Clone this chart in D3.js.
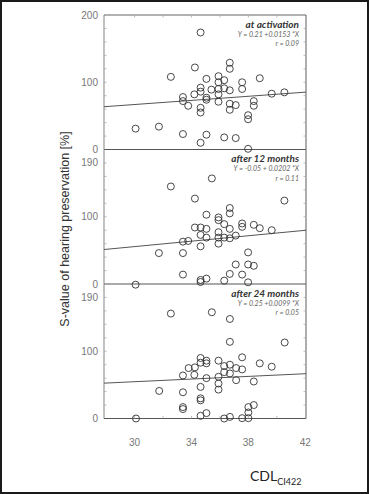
<!DOCTYPE html>
<html>
<head>
<meta charset="utf-8">
<script src="https://cdn.jsdelivr.net/npm/d3@7"></script>
<style>
  body { margin: 0; background: #fff; }
  svg { display: block; }
</style>
</head>
<body>
<div id="chart"></div>
<script>
// panels
const panelTitles = ["at activation", "after 12 months", "after 24 months"];
const panelFormulas = ["Y = 0.21 +0.0153 *X", "Y = -0.05 + 0.0202 *X", "Y = 0.25 +0.0099 *X"];
const panelR = ["r =  0.09", "r = 0.11", "r = 0.05"];
const intercepts = [0.21, -0.05, 0.25];
const slopes = [0.0153, 0.0202, 0.0099];

// y ticks per panel (value, label)
const yTickValues = [[0, 100, 200], [0, 100, 180], [0, 100, 180]];
const yTickLabels = [["0", "100", "200"], ["0", "100", "190"], ["0", "100", "190"]];
const xTickValues = [30, 34, 38, 42];

// activation: [CDL, S-value]
const activation = [
  [34.64,174],[34.24,122],[32.55,108],[36.69,129],[36.69,120],[35.05,105],[35.9,109],[35.9,100],
  [36.3,103],[37.56,100],[37.56,90],[38.8,106],[34.64,92],[34.64,86],[34.2,82],[35.4,89],
  [35.9,90],[36.3,91],[36.69,88],[35.9,82],[35.05,77],[35.05,74],[33.4,78],[33.4,72],
  [33.77,65],[34.64,62],[34.64,55],[35.9,71],[36.69,68],[36.69,59],[37.11,66],[38.38,72],
  [38.38,65],[37.98,51],[37.98,45],[39.64,83],[40.53,85],[30.07,31],[31.71,34],[33.4,23],
  [35.05,22],[34.64,10],[36.3,18],[37.11,17],[37.98,1]
];
const month12 = [
  [35.43,157],[32.55,145],[34.24,127],[36.69,113],[36.69,105],[40.53,124],[35.05,103],[35.9,99],
  [35.9,95],[36.3,89],[37.56,90],[37.56,85],[38.38,88],[38.8,83],[39.64,80],[34.24,84],
  [34.64,84],[35.05,82],[36.69,82],[35.9,77],[34.64,73],[35.05,69],[36.3,69],[35.9,69],
  [35.9,60],[36.69,68],[37.11,72],[33.4,63],[33.77,64],[34.64,56],[31.71,46],[33.4,46],
  [37.98,47],[37.11,29],[37.98,29],[38.38,27],[33.4,14],[36.69,15],[37.56,14],[35.05,8],
  [34.64,6],[34.64,3],[36.3,5],[37.98,2.5],[30.07,-1]
];
const month24 = [
  [32.55,156],[35.43,158],[36.7,148],[36.7,114],[40.55,113],[34.64,90],[34.64,83],[35.05,86],
  [35.05,82],[35.9,86],[37.56,91],[38.8,82],[39.64,77],[33.8,75],[34.24,76],[36.3,78],
  [36.7,80],[37.14,75],[37.56,73],[36.3,69],[36.7,67],[34.2,65],[33.4,64],[35.05,60],
  [35.9,62],[35.9,52],[35.9,43],[37.14,57],[38.38,55],[34.64,47],[31.73,41],[33.4,39],
  [34.64,30],[34.64,27],[33.4,17],[33.4,14],[38.0,17],[38.38,20],[38.0,9],[34.64,4],
  [35.05,8],[36.7,2.4],[36.3,0],[37.56,0.5],[38.0,0.5],[30.1,0]
];
const panelData = [activation, month12, month24];

const W = 369, H = 494;
const plotLeft = 104, plotRight = 306, plotTop = 15, panelH = 134.5;

const svg = d3.select("#chart").append("svg")
  .attr("width", W)
  .attr("height", H);

svg.append("rect")
  .attr("x", 1).attr("y", 1)
  .attr("width", W - 2).attr("height", H - 2)
  .attr("fill", "#fff")
  .attr("stroke", "#1a1a1a")
  .attr("stroke-width", 2);

const x = d3.scaleLinear().domain([27.85, 42.05]).range([plotLeft, plotRight]);

panelData.forEach((pts, i) => {
  const top = plotTop + i * panelH;
  const y = d3.scaleLinear().domain([0, 200]).range([top + panelH, top]);
  const g = svg.append("g");

  // frame
  g.append("line")
    .attr("x1", plotLeft).attr("x2", plotLeft)
    .attr("y1", top).attr("y2", top + panelH)
    .attr("stroke", "#999").attr("stroke-width", 1.2);
  g.append("line")
    .attr("x1", plotRight).attr("x2", plotRight)
    .attr("y1", top).attr("y2", top + panelH)
    .attr("stroke", "#777").attr("stroke-width", 1.2);
  if (i == 0) {
    g.append("line")
      .attr("x1", plotLeft).attr("x2", plotRight)
      .attr("y1", top).attr("y2", top)
      .attr("stroke", "#666").attr("stroke-width", 1.2);
  }
  g.append("line")
    .attr("x1", plotLeft).attr("x2", plotRight)
    .attr("y1", y(0)).attr("y2", y(0))
    .attr("stroke", "#555").attr("stroke-width", 1.2);

  // minor ticks inside, left and right
  const minor = d3.range(20, 200, 20);
  g.selectAll(".mtl").data(minor).enter().append("line")
    .attr("x1", plotLeft).attr("x2", plotLeft + 2.5)
    .attr("y1", d => y(d)).attr("y2", d => y(d))
    .attr("stroke", "#aaa").attr("stroke-width", 0.8);
  g.selectAll(".mtr").data(minor).enter().append("line")
    .attr("x1", plotRight).attr("x2", plotRight - 2.5)
    .attr("y1", d => y(d)).attr("y2", d => y(d))
    .attr("stroke", "#aaa").attr("stroke-width", 0.8);

  // y tick labels
  g.selectAll(".yt").data(yTickValues[i]).enter().append("text")
    .attr("x", 98)
    .attr("y", d => y(d))
    .attr("dy", "0.35em")
    .attr("text-anchor", "end")
    .attr("font-family", "Liberation Sans, Arial, sans-serif")
    .attr("font-size", 10)
    .attr("fill", "#777")
    .text((d, k) => yTickLabels[i][k]);

  // regression line
  const xd = x.domain();
  g.append("line")
    .attr("x1", x(xd[0])).attr("x2", x(xd[1]))
    .attr("y1", y(100 * (intercepts[i] + slopes[i] * xd[0])))
    .attr("y2", y(100 * (intercepts[i] + slopes[i] * xd[1])))
    .attr("stroke", "#555").attr("stroke-width", 1);

  // points
  g.selectAll("circle").data(pts).enter().append("circle")
    .attr("cx", d => x(d[0]))
    .attr("cy", d => y(d[1]))
    .attr("r", 3.5)
    .attr("fill", "none")
    .attr("stroke", "#333")
    .attr("stroke-width", 0.9);

  // annotations
  const ann = g.append("g").attr("font-family", "Lato, Open Sans, sans-serif")
    .attr("text-anchor", "end").attr("fill", "#444");
  ann.append("text")
    .attr("x", 299).attr("y", top + 12.5)
    .attr("font-size", 10).attr("font-weight", "bold").attr("font-style", "italic")
    .attr("fill", "#333")
    .text(panelTitles[i]);
  ann.append("text")
    .attr("x", 299).attr("y", top + 21.5)
    .attr("font-size", 7).attr("font-style", "italic")
    .attr("fill", "#666")
    .text(panelFormulas[i]);
  ann.append("text")
    .attr("x", 299).attr("y", top + 31)
    .attr("font-size", 7).attr("font-style", "italic")
    .attr("fill", "#666")
    .text(panelR[i]);
});

// x axis ticks
const bottom = plotTop + 3 * panelH;
const xMinor = d3.range(30, 42, 2);
svg.selectAll(".xmb").data(xMinor).enter().append("line")
  .attr("x1", d => x(d)).attr("x2", d => x(d))
  .attr("y1", bottom).attr("y2", bottom - 2.5)
  .attr("stroke", "#aaa").attr("stroke-width", 0.8);
svg.selectAll(".xmt").data(xMinor).enter().append("line")
  .attr("x1", d => x(d)).attr("x2", d => x(d))
  .attr("y1", plotTop).attr("y2", plotTop + 2.5)
  .attr("stroke", "#aaa").attr("stroke-width", 0.8);
svg.selectAll(".xt").data(xTickValues).enter().append("text")
  .attr("x", d => x(d))
  .attr("y", bottom + 27)
  .attr("text-anchor", "middle")
  .attr("font-family", "Liberation Sans, Arial, sans-serif")
  .attr("font-size", 10)
  .attr("fill", "#777")
  .text(d => d);

// axis titles
const xt = svg.append("text")
  .attr("x", 250).attr("y", 481)
  .attr("font-family", "Lato, Open Sans, sans-serif")
  .attr("font-size", 14)
  .attr("fill", "#222");
xt.append("tspan").text("CDL");
xt.append("tspan").attr("font-size", 9).attr("dy", 4).text("CI422");

svg.append("text")
  .attr("transform", "translate(69,229) rotate(-90)")
  .attr("text-anchor", "middle")
  .attr("font-family", "Liberation Sans, Arial, sans-serif")
  .attr("font-size", 12.5)
  .attr("fill", "#333")
  .text("S-value of hearing preservation [%]");
</script>
</body>
</html>
